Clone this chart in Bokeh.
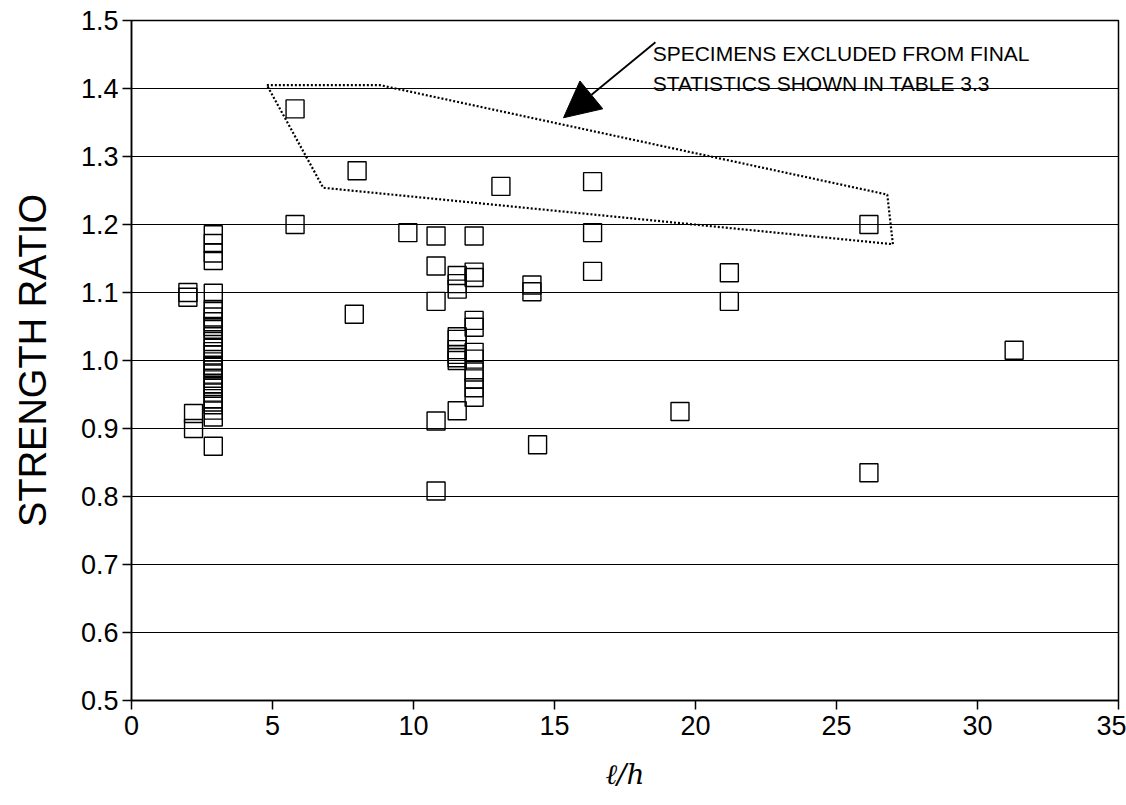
from bokeh.plotting import figure
from bokeh.models import FixedTicker, Range1d, Label, Arrow, NormalHead, ColumnDataSource, PrintfTickFormatter
from bokeh.core.properties import value
from bokeh.embed import file_html
from bokeh.resources import INLINE

# ---- data ----
lh = [2.0, 2.0, 2.2, 2.2,
      2.9, 2.9, 2.9, 2.9, 2.9, 2.9, 2.9, 2.9, 2.9, 2.9, 2.9, 2.9, 2.9, 2.9, 2.9, 2.9,
      2.9, 2.9, 2.9, 2.9, 2.9, 2.9, 2.9, 2.9, 2.9, 2.9, 2.9, 2.9, 2.9, 2.9, 2.9, 2.9,
      5.8, 5.8, 8.0, 7.9, 9.8,
      10.8, 10.8, 10.8, 10.8, 10.8,
      11.55, 11.55, 11.55, 11.55, 11.55, 11.55, 11.55, 11.55, 11.55, 11.55,
      12.15, 12.15, 12.15, 12.15, 12.15, 12.15, 12.15, 12.15, 12.15, 12.15, 12.15,
      13.1, 14.2, 14.2, 14.4,
      16.35, 16.35, 16.35,
      19.45, 21.2, 21.2,
      26.15, 26.15, 31.3]
ratio = [1.100, 1.093, 0.922, 0.900,
         1.185, 1.172, 1.158, 1.147, 1.099, 1.075, 1.072, 1.064, 1.057, 1.050, 1.046, 1.035,
         1.028, 1.018, 1.013, 1.008, 0.998, 0.993, 0.990, 0.986, 0.980, 0.974, 0.966, 0.962,
         0.959, 0.952, 0.944, 0.939, 0.935, 0.927, 0.917, 0.874,
         1.370, 1.200, 1.279, 1.068, 1.188,
         1.183, 1.139, 1.087, 0.911, 0.808,
         1.125, 1.113, 1.105, 1.035, 1.031, 1.016, 1.009, 1.004, 1.000, 0.926,
         1.183, 1.130, 1.122, 1.059, 1.049, 1.012, 1.002, 0.983, 0.973, 0.960, 0.946,
         1.256, 1.111, 1.101, 0.876,
         1.263, 1.188, 1.131,
         0.925, 1.129, 1.087,
         1.200, 0.835, 1.015]

# excluded-specimens outline
excl_x = [4.8, 8.8, 26.8, 27.0, 6.8, 4.8]
excl_y = [1.405, 1.405, 1.244, 1.171, 1.254, 1.405]

x_ticks = [0, 5, 10, 15, 20, 25, 30, 35]
y_ticks = [0.5, 0.6, 0.7, 0.8, 0.9, 1.0, 1.1, 1.2, 1.3, 1.4, 1.5]

note_lines = ["SPECIMENS EXCLUDED FROM FINAL", "STATISTICS SHOWN IN TABLE 3.3"]

p = figure(width=1126, height=805, output_backend="svg", toolbar_location=None,
           x_range=Range1d(0, 35), y_range=Range1d(0.5, 1.5),
           min_border_left=131, min_border_right=8, min_border_top=20, min_border_bottom=105)
p.background_fill_color = "white"
p.border_fill_color = "white"
p.outline_line_color = "black"
p.outline_line_width = 1.5

p.xgrid.grid_line_color = None
p.ygrid.grid_line_color = "black"
p.ygrid.grid_line_width = 1.2
p.ygrid.ticker = FixedTicker(ticks=y_ticks)

p.xaxis.ticker = FixedTicker(ticks=x_ticks)
p.yaxis.ticker = FixedTicker(ticks=y_ticks)
p.yaxis.formatter = PrintfTickFormatter(format="%.1f")
for ax in (p.xaxis[0], p.yaxis[0]):
    ax.axis_line_color = "black"
    ax.axis_line_width = 1.5
    ax.major_tick_line_color = "black"
    ax.major_tick_line_width = 1.5
    ax.major_tick_in = 0
    ax.major_tick_out = 9
    ax.minor_tick_line_color = None
    ax.major_label_text_color = "black"
    ax.major_label_text_font = "Liberation Sans"
    ax.axis_label_text_color = "black"
p.yaxis.major_label_text_font_size = "27px"
p.xaxis.major_label_text_font_size = "27px"
p.xaxis.major_label_standoff = 6
p.yaxis.major_label_standoff = 4

p.yaxis.axis_label = "STRENGTH RATIO"
p.yaxis.axis_label_text_font = "Liberation Sans"
p.yaxis.axis_label_text_font_size = "38px"
p.yaxis.axis_label_text_font_style = "normal"
p.yaxis.axis_label_standoff = 24

p.xaxis.axis_label = "ℓ/h"
p.xaxis.axis_label_text_font = "DejaVu Serif"
p.xaxis.axis_label_text_font_size = "28px"
p.xaxis.axis_label_text_font_style = "italic"
p.xaxis.axis_label_standoff = 20

src = ColumnDataSource(dict(lh=lh, ratio=ratio))
p.scatter("lh", "ratio", source=src, marker="square", size=18,
          fill_color=None, line_color="black", line_width=1.4)

p.line(excl_x, excl_y, line_color="black", line_width=2.2, line_dash="2 2")

p.add_layout(Arrow(end=NormalHead(size=36, fill_color="black", line_color="black"),
                   x_start=18.58, y_start=1.468, x_end=15.32, y_end=1.357,
                   line_color="black", line_width=1.8))

for i, t in enumerate(note_lines):
    p.add_layout(Label(x=18.48, y=1.451 - i * 0.044, text=t, text_font="Liberation Sans",
                       text_font_size="21px", text_color="black", text_baseline="alphabetic"))

open("out.html", "w").write(file_html(p, INLINE))
